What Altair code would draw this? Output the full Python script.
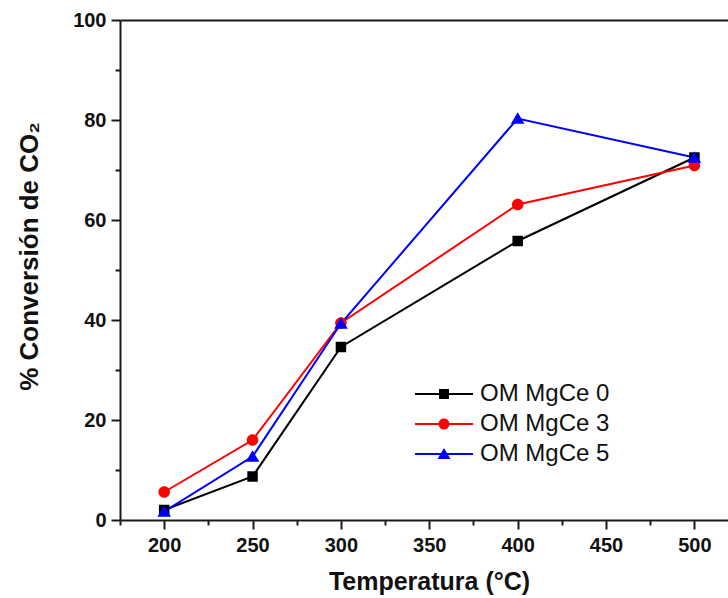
import altair as alt
import pandas as pd

# Reaction temperature (°C) and CO2 conversion (%) for each catalyst
temperatures = [200, 250, 300, 400, 500]
series_names = ["OM MgCe 0", "OM MgCe 3", "OM MgCe 5"]
conv_mgce0 = [2.0, 8.7, 34.6, 55.8, 72.5]
conv_mgce3 = [5.6, 16.0, 39.4, 63.1, 70.9]
conv_mgce5 = [1.7, 12.7, 39.3, 80.3, 72.5]
series_colors = ["#000000", "#ff0000", "#0000ff"]

# Axis ticks
x_major = [200, 250, 300, 350, 400, 450, 500]
x_minor = [175, 225, 275, 325, 375, 425, 475]
y_major = [0, 20, 40, 60, 80, 100]
y_minor = [10, 30, 50, 70, 90]

rows = []
for name, values in zip(series_names, [conv_mgce0, conv_mgce3, conv_mgce5]):
    for t, v in zip(temperatures, values):
        rows.append({"Temperatura": t, "Conversion": v, "Serie": name})
df = pd.DataFrame(rows)

FONT = "Liberation Sans"
AXIS_COLOR = "#1a1a1a"

x_scale = alt.Scale(domain=[175, 519], nice=False, zero=False)
y_scale = alt.Scale(domain=[0, 100], nice=False)
color_scale = alt.Scale(domain=series_names, range=series_colors)

# Marker outlines in symbol unit coordinates
square = "M-1,-1H1V1H-1Z"
circle = "M-1.1,0A1.1,1.1 0 1,1 1.1,0A1.1,1.1 0 1,1 -1.1,0Z"
triangle = "M0,-1.2L1.3,1H-1.3Z"
marker_paths = [square, circle, triangle]

# Legend glyphs: a short line segment with the series marker on it
seg = "M-5.8,-0.2H5.8V0.2H-5.8Z"
legend_glyphs = [seg + p for p in marker_paths]

major_x_axis = alt.Axis(
    values=x_major, title="Temperatura (°C)", orient="bottom",
    labelFont=FONT, labelFontSize=20, labelFontWeight="bold", labelColor="#111",
    labelPadding=6, tickSize=9, tickWidth=2, tickColor=AXIS_COLOR,
    domainColor=AXIS_COLOR, domainWidth=2, grid=False,
    titleFont=FONT, titleFontSize=25, titleFontWeight="bold", titleColor="#111",
    titlePadding=14, titleX=309,
)
major_y_axis = alt.Axis(
    values=y_major, title="% Conversión de CO₂", orient="left",
    labelFont=FONT, labelFontSize=20, labelFontWeight="bold", labelColor="#111",
    labelPadding=5, tickSize=9, tickWidth=2, tickColor=AXIS_COLOR,
    domainColor=AXIS_COLOR, domainWidth=2, grid=False,
    titleFont=FONT, titleFontSize=26, titleFontWeight="bold", titleColor="#111",
    titlePadding=30, titleY=236,
)
minor_x_axis = alt.Axis(
    values=x_minor, orient="bottom", labels=False, title=None, domain=False,
    tickSize=5, tickWidth=2, tickColor=AXIS_COLOR, grid=False,
)
minor_y_axis = alt.Axis(
    values=y_minor, orient="left", labels=False, title=None, domain=False,
    tickSize=5, tickWidth=2, tickColor=AXIS_COLOR, grid=False,
)
top_axis = alt.Axis(
    orient="top", labels=False, ticks=False, title=None, grid=False,
    domainColor=AXIS_COLOR, domainWidth=2,
)

lines = alt.Chart(df).mark_line(strokeWidth=2).encode(
    x=alt.X("Temperatura:Q", scale=x_scale, axis=major_x_axis),
    y=alt.Y("Conversion:Q", scale=y_scale, axis=major_y_axis),
    color=alt.Color("Serie:N", scale=color_scale, legend=None),
    detail="Serie:N",
)

points = alt.Chart(df).mark_point(filled=True, size=110, opacity=1).encode(
    x=alt.X("Temperatura:Q", scale=x_scale, axis=minor_x_axis),
    y=alt.Y("Conversion:Q", scale=y_scale, axis=minor_y_axis),
    color=alt.Color("Serie:N", scale=color_scale, legend=None),
    shape=alt.Shape("Serie:N", scale=alt.Scale(domain=series_names, range=marker_paths), legend=None),
)

legend_props = dict(
    orient="none", legendX=312, legendY=362, title=None,
    labelFont=FONT, labelFontSize=24, labelColor="#111",
    symbolSize=100, symbolStrokeWidth=0, labelOffset=24,
    rowPadding=6, padding=0,
)

legend_layer = alt.Chart(df).transform_filter("false").mark_point(
    filled=True, size=100, opacity=1
).encode(
    x=alt.X("Temperatura:Q", scale=x_scale, axis=top_axis),
    color=alt.Color("Serie:N", scale=color_scale, legend=alt.Legend(**legend_props)),
    shape=alt.Shape("Serie:N", scale=alt.Scale(domain=series_names, range=legend_glyphs),
                    legend=alt.Legend(**legend_props)),
)

chart = (
    alt.layer(lines, points, legend_layer)
    .resolve_axis(x="independent", y="independent")
    .resolve_scale(color="independent", shape="independent")
    .properties(
        width=608, height=500,
        autosize=alt.AutoSizeParams(type="none"),
        padding={"left": 120, "top": 20, "right": 0, "bottom": 78},
        background="white",
    )
    .configure_view(stroke=None)
)

chart.save("out.html", embed_options={"renderer": "svg", "actions": False})
